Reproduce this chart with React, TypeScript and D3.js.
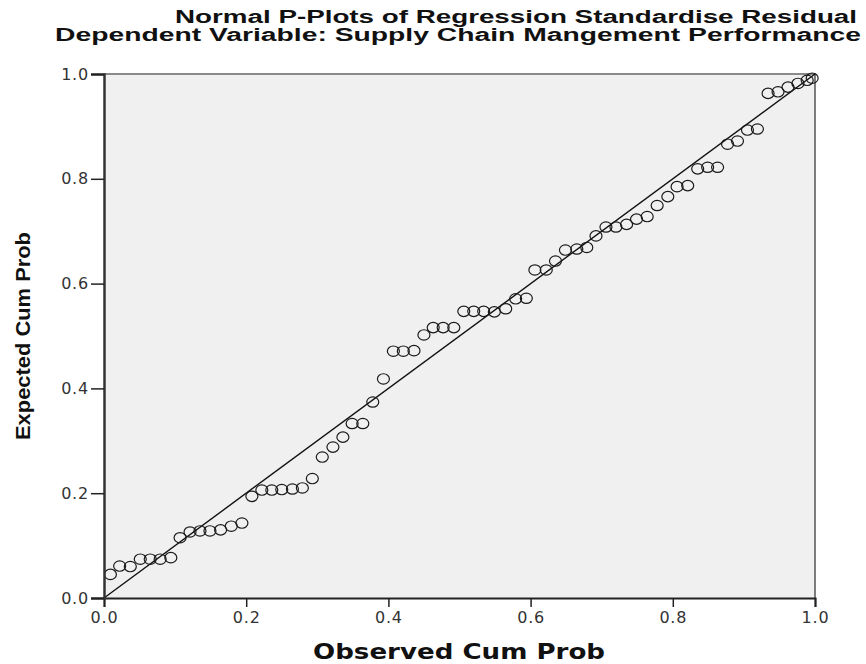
import React, { useEffect, useRef } from 'react';
import * as d3 from 'd3';

// observed cumulative probability (x) and expected cumulative probability (y)
const observedCumProb = [
  0.009, 0.022, 0.037, 0.051, 0.065, 0.079, 0.094, 0.107, 0.121, 0.135,
  0.149, 0.164, 0.179, 0.194, 0.208, 0.222, 0.236, 0.250, 0.265, 0.279,
  0.293, 0.307, 0.322, 0.336, 0.349, 0.364, 0.378, 0.393, 0.407, 0.421,
  0.436, 0.450, 0.463, 0.477, 0.492, 0.506, 0.520, 0.534, 0.549, 0.565,
  0.579, 0.594, 0.606, 0.622, 0.635, 0.649, 0.665, 0.679, 0.692, 0.706,
  0.720, 0.735, 0.749, 0.764, 0.778, 0.793, 0.806, 0.821, 0.835, 0.849,
  0.863, 0.877, 0.891, 0.905, 0.919, 0.934, 0.948, 0.962, 0.976, 0.989,
  0.996,
];
const expectedCumProb = [
  0.045, 0.061, 0.060, 0.074, 0.074, 0.074, 0.077, 0.115, 0.126, 0.128,
  0.128, 0.130, 0.137, 0.143, 0.194, 0.206, 0.206, 0.207, 0.208, 0.210,
  0.228, 0.269, 0.288, 0.307, 0.333, 0.333, 0.374, 0.418, 0.471, 0.471,
  0.472, 0.502, 0.516, 0.516, 0.516, 0.547, 0.547, 0.547, 0.546, 0.552,
  0.571, 0.572, 0.626, 0.626, 0.643, 0.664, 0.666, 0.669, 0.691, 0.708,
  0.708, 0.713, 0.723, 0.728, 0.749, 0.766, 0.785, 0.787, 0.819, 0.822,
  0.822, 0.866, 0.872, 0.893, 0.895, 0.963, 0.966, 0.975, 0.982, 0.988,
  0.992,
];
const tickValues = [0, 0.2, 0.4, 0.6, 0.8, 1.0];
const titleLines = [
  'Normal P-Plots of Regression Standardise Residual',
  'Dependent Variable: Supply Chain Mangement Performance',
];

const App = () => {
  const svgRef = useRef<SVGSVGElement>(null);

  useEffect(() => {
    const svg = d3.select(svgRef.current);
    svg.selectAll('*').remove();

    const width = 866;
    const height = 664;
    const margin = { top: 74, right: 51, bottom: 66, left: 104 };

    const x = d3.scaleLinear().domain([0, 1]).range([margin.left, width - margin.right]);
    const y = d3.scaleLinear().domain([0, 1]).range([height - margin.bottom, margin.top]);

    const points = observedCumProb.map((d, i) => ({ obs: d, exp: expectedCumProb[i] }));

    svg.append('rect').attr('width', width).attr('height', height).attr('fill', 'white');

    // plot area
    svg.append('rect')
      .attr('x', x(0)).attr('y', y(1))
      .attr('width', x(1) - x(0)).attr('height', y(0) - y(1))
      .attr('fill', '#f0f0f0');

    // frame: top and right
    svg.append('line')
      .attr('x1', x(0)).attr('x2', x(1) + 1).attr('y1', y(1)).attr('y2', y(1))
      .attr('stroke', '#8a8a8a').attr('stroke-width', 2);
    svg.append('line')
      .attr('x1', x(1)).attr('x2', x(1)).attr('y1', y(1)).attr('y2', y(0))
      .attr('stroke', '#555').attr('stroke-width', 1.5);

    // reference diagonal
    svg.append('line')
      .attr('x1', x(0)).attr('y1', y(0)).attr('x2', x(1)).attr('y2', y(1))
      .attr('stroke', '#111').attr('stroke-width', 1.4);

    // points
    svg.append('g')
      .selectAll('ellipse')
      .data(points)
      .enter()
      .append('ellipse')
      .attr('cx', d => x(d.obs))
      .attr('cy', d => y(d.exp))
      .attr('rx', 6)
      .attr('ry', 5.2)
      .attr('fill', 'none')
      .attr('stroke', '#1a1a1a')
      .attr('stroke-width', 1.2);

    // x axis
    const xAxis = svg.append('g')
      .attr('transform', `translate(0,${y(0)})`)
      .call(d3.axisBottom(x).tickValues(tickValues).tickFormat(d3.format('.1f')).tickSize(9).tickPadding(5));
    xAxis.select('.domain').attr('stroke', '#222').attr('stroke-width', 2);
    xAxis.selectAll('.tick line').attr('stroke', '#222').attr('stroke-width', 1.5);
    xAxis.selectAll('text')
      .attr('font-family', 'DejaVu Sans, sans-serif')
      .attr('font-size', 16)
      .attr('letter-spacing', 0.8)
      .attr('fill', '#333');

    // y axis
    const yAxis = svg.append('g')
      .attr('transform', `translate(${x(0)},0)`)
      .call(d3.axisLeft(y).tickValues(tickValues).tickFormat(d3.format('.1f')).tickSize(13).tickPadding(2));
    yAxis.select('.domain').attr('stroke', '#333').attr('stroke-width', 2.5);
    yAxis.selectAll('.tick line').attr('stroke', '#222').attr('stroke-width', 1.5);
    yAxis.selectAll('text')
      .attr('font-family', 'DejaVu Sans, sans-serif')
      .attr('font-size', 16)
      .attr('letter-spacing', 0.8)
      .attr('fill', '#333');

    // titles
    const titleStarts = [175, 55];
    const titleLengths = [682, 806];
    svg.append('g')
      .selectAll('text')
      .data(titleLines)
      .enter()
      .append('text')
      .attr('x', (d, i) => titleStarts[i])
      .attr('y', (d, i) => 23 + i * 18)
      .attr('textLength', (d, i) => titleLengths[i])
      .attr('lengthAdjust', 'spacingAndGlyphs')
      .attr('font-family', 'Liberation Sans Narrow, Liberation Sans, Arial, sans-serif')
      .attr('font-weight', 'bold')
      .attr('font-size', 18)
      .attr('fill', '#111')
      .text(d => d);

    // axis titles
    svg.append('text')
      .attr('x', 313).attr('y', 659)
      .attr('textLength', 292)
      .attr('lengthAdjust', 'spacingAndGlyphs')
      .attr('font-family', 'DejaVu Sans, sans-serif')
      .attr('font-weight', 'bold')
      .attr('font-size', 21)
      .attr('fill', '#111')
      .text('Observed Cum Prob');

    svg.append('text')
      .attr('transform', 'translate(30,336) rotate(-90)')
      .attr('text-anchor', 'middle')
      .attr('textLength', 208)
      .attr('lengthAdjust', 'spacingAndGlyphs')
      .attr('font-family', 'Liberation Sans Narrow, Liberation Sans, Arial, sans-serif')
      .attr('font-weight', 'bold')
      .attr('font-size', 21)
      .attr('fill', '#111')
      .text('Expected Cum Prob');
  }, []);

  return (
    <svg
      ref={svgRef}
      width={866}
      height={664}
      style={{ position: 'absolute', left: 0, top: 0, display: 'block' }}
    ></svg>
  );
};

export default App;
